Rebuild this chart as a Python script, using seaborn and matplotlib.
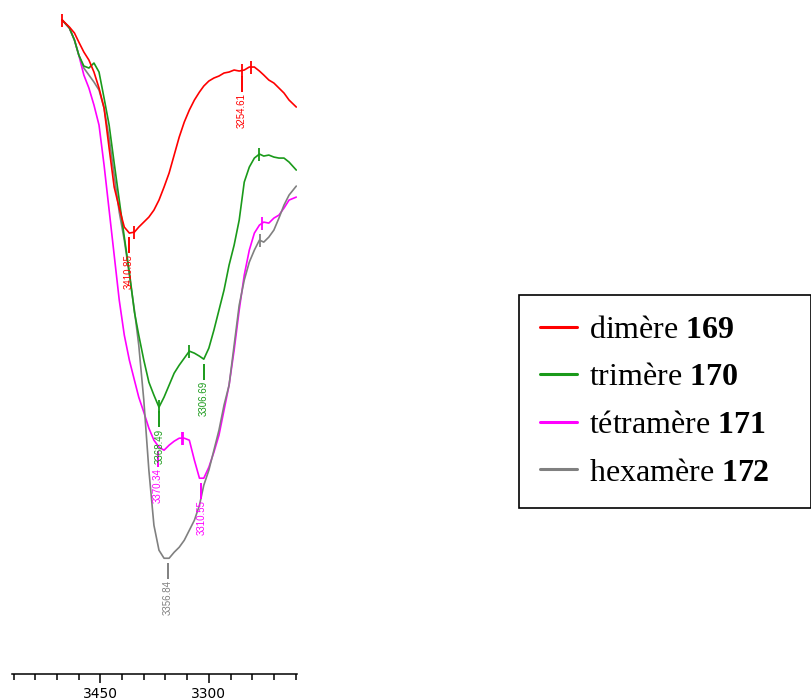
import numpy as np
import pandas as pd
import matplotlib
matplotlib.use("Agg")
import matplotlib.pyplot as plt
import seaborn as sns
from matplotlib.lines import Line2D
from matplotlib.ticker import FixedLocator, MultipleLocator

# ---- data (wavenumber in cm-1, transmittance in arbitrary units) ----
wavenumber = [3503, 3493, 3486, 3480, 3473, 3466, 3459, 3452, 3445, 3438,
              3431, 3424, 3417, 3410, 3403, 3397, 3390, 3383, 3376, 3369,
              3362, 3355, 3348, 3341, 3334, 3327, 3320, 3313, 3307, 3300,
              3293, 3286, 3279, 3272, 3265, 3258, 3251, 3244, 3237, 3230,
              3224, 3217, 3210, 3203, 3196, 3189, 3179]

dimere_169 = [66.0, 65.3, 64.7, 63.8, 62.8, 62.0, 60.8, 59.2, 57.2, 53.2,
              49.3, 47.2, 45.3, 44.7, 44.8, 45.3, 45.8, 46.3, 47.0, 48.0,
              49.3, 50.7, 52.5, 54.3, 55.8, 57.0, 58.0, 58.8, 59.4, 59.9,
              60.2, 60.4, 60.7, 60.8, 61.0, 60.9, 61.0, 61.3, 61.3, 60.9,
              60.5, 60.0, 59.7, 59.2, 58.7, 58.0, 57.3]

trimere_170 = [66.0, 65.2, 64.0, 62.5, 61.4, 61.2, 61.7, 60.8, 58.2, 55.5,
               51.7, 48.0, 44.3, 40.8, 36.8, 34.5, 32.0, 29.8, 28.5, 27.3,
               28.3, 29.5, 30.7, 31.5, 32.2, 32.9, 32.7, 32.4, 32.1, 33.2,
               35.0, 37.0, 39.0, 41.5, 43.5, 46.0, 49.8, 51.3, 52.2, 52.6,
               52.4, 52.5, 52.3, 52.2, 52.2, 51.8, 51.0]

tetramere_171 = [66.0, 65.2, 64.0, 62.5, 60.5, 59.2, 57.5, 55.5, 51.5, 47.0,
                 42.5, 38.0, 34.5, 32.0, 30.0, 28.3, 26.8, 25.2, 24.0, 23.3,
                 23.0, 23.5, 23.9, 24.2, 24.2, 24.0, 22.0, 20.2, 20.2, 21.3,
                 22.8, 24.5, 27.0, 29.5, 33.0, 37.0, 40.5, 43.0, 44.7, 45.5,
                 45.8, 45.7, 46.2, 46.5, 47.2, 48.0, 48.3]

hexamere_172 = [66.0, 65.2, 64.0, 62.5, 61.2, 60.5, 59.8, 59.0, 57.2, 54.2,
                50.5, 46.8, 44.0, 40.5, 37.0, 33.5, 28.0, 21.0, 15.5, 13.0,
                12.2, 12.2, 12.8, 13.3, 14.0, 15.0, 16.0, 17.5, 19.5, 21.0,
                23.0, 25.0, 27.5, 29.5, 33.5, 37.5, 40.0, 41.8, 43.0, 44.0,
                43.8, 44.3, 45.0, 46.2, 47.5, 48.5, 49.4]

series_names = ["dimère", "trimère", "tétramère", "hexamère"]
series_ids = ["169", "170", "171", "172"]
series_values = [dimere_169, trimere_170, tetramere_171, hexamere_172]
colors = ["#ff0000", "#1a9a1a", "#ff00ff", "#808080"]

# labelled peaks (cm-1)
peaks_169 = [3410.85, 3254.61]
peaks_170 = [3368.49, 3306.69]
peaks_171 = [3370.34, 3310.55]
peaks_172 = [3356.84]
peak_lists = [peaks_169, peaks_170, peaks_171, peaks_172]

# cursor marks on the curves (cm-1)
marks_169 = [3503, 3403, 3254.61, 3241]
marks_170 = [3368.49, 3327, 3230]
marks_171 = [3337, 3336, 3226]
marks_172 = [3229]
mark_lists = [marks_169, marks_170, marks_171, marks_172]

x_major = [3450, 3300]

# ---- styling ----
sns.set_theme(style="white")
plt.rcParams["font.family"] = ["DejaVu Sans"]
plt.rcParams["text.color"] = "black"
plt.rcParams["xtick.color"] = "black"
plt.rcParams["xtick.labelcolor"] = "black"
plt.rcParams["mathtext.fontset"] = "custom"
plt.rcParams["mathtext.rm"] = "Liberation Serif"
plt.rcParams["mathtext.bf"] = "Liberation Serif:bold"

labels = [f"{n} $\\mathbf{{{i}}}$" for n, i in zip(series_names, series_ids)]

frames = []
for lab, vals in zip(labels, series_values):
    frames.append(pd.DataFrame({"wavenumber": wavenumber, "T": vals, "sample": lab}))
df = pd.concat(frames, ignore_index=True)
palette = dict(zip(labels, colors))

fig = plt.figure(figsize=(8.12, 7.0), dpi=100)
ax = fig.add_axes([12.3 / 812, (700 - 674.3) / 700, (297 - 12.3) / 812, (674.3 - 10) / 700])

order = [labels[2], labels[3], labels[1], labels[0]]
sns.lineplot(data=df, x="wavenumber", y="T", hue="sample", hue_order=order,
             palette=palette, legend=False, estimator=None, lw=1.2, ax=ax)

wn_inc = np.array(wavenumber[::-1], dtype=float)
for vals, col, peaks, marks in zip(series_values, colors, peak_lists, mark_lists):
    v_inc = np.array(vals[::-1], dtype=float)
    for w in marks:
        t = np.interp(w, wn_inc, v_inc)
        ax.plot([w, w], [t - 0.65, t + 0.65], color=col, lw=1.3, solid_capstyle="butt")
    for w in peaks:
        t = np.interp(w, wn_inc, v_inc)
        ax.plot([w, w], [t - 0.5, t - 2.1], color=col, lw=1.4, solid_capstyle="butt")
        ax.text(w, t - 2.2, f"{w:.2f}", rotation=90, ha="center", va="top",
                fontsize=7, color=col, family="Liberation Sans")

ax.set_xlim(3572, 3178)
ax.set_ylim(0.6, 67)
ax.set_xlabel("")
ax.set_ylabel("")
ax.set_yticks([])
for s in ["left", "top", "right"]:
    ax.spines[s].set_visible(False)
ax.spines["bottom"].set_color("black")
ax.spines["bottom"].set_linewidth(1.1)
ax.xaxis.set_major_locator(FixedLocator(x_major))
ax.xaxis.set_minor_locator(MultipleLocator(30))
ax.tick_params(axis="x", which="major", direction="out", length=6.5, width=1.1,
               color="black", labelcolor="black", labelsize=10, pad=3, bottom=True)
ax.tick_params(axis="x", which="minor", direction="out", length=4.3, width=1.1,
               color="black", bottom=True)
ax.set_xticklabels([str(v) for v in x_major])
ax.patch.set_visible(False)

handles = [Line2D([], [], color=c, lw=2.2) for c in colors]
leg = fig.legend(handles, labels, loc="center",
                 bbox_to_anchor=(519 / 812, 190 / 700, 292 / 812, 217 / 700),
                 bbox_transform=fig.transFigure, mode="expand", borderaxespad=0,
                 fancybox=False, frameon=True, edgecolor="black", framealpha=1,
                 prop={"family": "Liberation Serif", "size": 23},
                 handlelength=1.16, handletextpad=0.37, labelspacing=0.57,
                 borderpad=0.65)
leg.get_frame().set_linewidth(1.2)
for txt in leg.get_texts():
    txt.set_color("black")

fig.savefig("out.png", dpi=100)
